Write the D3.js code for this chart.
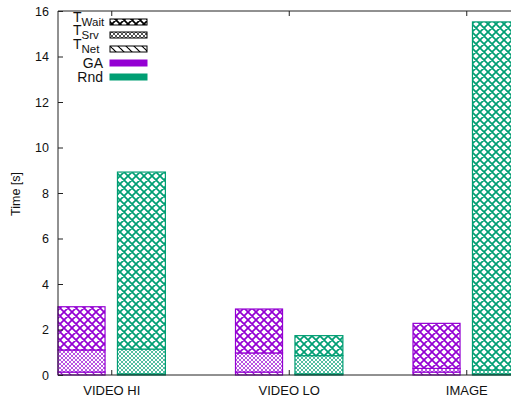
<!DOCTYPE html>
<html>
<head>
<meta charset="utf-8">
<script src="https://cdn.jsdelivr.net/npm/d3@7"></script>
<style>
  body { margin: 0; background: #fff; }
  svg { display: block; font-family: "Liberation Sans", Arial, sans-serif; }
</style>
</head>
<body>
<svg width="511" height="400"></svg>
<script>
// data
const categories = ['VIDEO HI', 'VIDEO LO', 'IMAGE'];
const algorithms = ['GA', 'Rnd'];
const algoColors = ['#9400d3', '#009e73'];
// per algorithm, per category (seconds), stacked bottom-up: Net, Srv, Wait
const tNet = { GA: [0.13, 0.13, 0.13], Rnd: [0.05, 0.05, 0.05] };
const tSrv = { GA: [0.97, 0.84, 0.16], Rnd: [1.09, 0.80, 0.17] };
const tWait = { GA: [1.90, 1.93, 1.98], Rnd: [7.78, 0.88, 15.30] };
const yTicks = [0, 2, 4, 6, 8, 10, 12, 14, 16];

const svg = d3.select('svg');
const plotLeft = 58, plotTop = 11, plotBottom = 375, plotRight = 519.5;

const x = d3.scaleLinear().domain([-0.3, 2.3]).range([plotLeft, plotRight]);
const y = d3.scaleLinear().domain([0, 16]).range([plotBottom, plotTop]);

const defs = svg.append('defs');
function makePatterns(key, color) {
  // coarse crosshatch (T_Wait)
  let p = defs.append('pattern').attr('id', 'wait-' + key)
    .attr('patternUnits', 'userSpaceOnUse').attr('width', 8).attr('height', 8);
  p.append('rect').attr('width', 8).attr('height', 8).attr('fill', '#fff');
  p.append('path').attr('d', 'M0,0L8,8M8,0L0,8M-2,6L2,10M6,-2L10,2M-2,2L2,-2M6,10L10,6')
    .attr('stroke', color).attr('stroke-width', 1.7);
  // fine crosshatch (T_Srv)
  p = defs.append('pattern').attr('id', 'srv-' + key)
    .attr('patternUnits', 'userSpaceOnUse').attr('width', 4).attr('height', 4);
  p.append('rect').attr('width', 4).attr('height', 4).attr('fill', '#fff');
  p.append('path').attr('d', 'M0,0L4,4M4,0L0,4')
    .attr('stroke', color).attr('stroke-width', 0.9).attr('opacity', 0.75);
  // diagonal stripes (T_Net)
  p = defs.append('pattern').attr('id', 'net-' + key)
    .attr('patternUnits', 'userSpaceOnUse').attr('width', 8).attr('height', 8);
  p.append('rect').attr('width', 8).attr('height', 8).attr('fill', '#fff');
  p.append('path').attr('d', 'M0,0L8,8M-4,4L0,8M4,-4L12,4')
    .attr('stroke', color).attr('stroke-width', 1.2);
}
makePatterns('GA', algoColors[0]);
makePatterns('Rnd', algoColors[1]);
makePatterns('key', '#000');

// bars
const offsets = { GA: [-0.3, -0.035], Rnd: [0.035, 0.305] };
algorithms.forEach((a, ai) => {
  const color = algoColors[ai];
  const rows = categories.map((c, i) => {
    const n = tNet[a][i], s = tSrv[a][i], w = tWait[a][i];
    return [
      { i, y0: 0, y1: n, pat: 'net' },
      { i, y0: n, y1: n + s, pat: 'srv' },
      { i, y0: n + s, y1: n + s + w, pat: 'wait' }
    ];
  }).flat();
  svg.append('g').selectAll('rect').data(rows).join('rect')
    .attr('x', d => x(d.i + offsets[a][0]))
    .attr('width', d => x(d.i + offsets[a][1]) - x(d.i + offsets[a][0]))
    .attr('y', d => y(d.y1))
    .attr('height', d => y(d.y0) - y(d.y1))
    .attr('fill', d => `url(#${d.pat}-${a})`)
    .attr('stroke', color)
    .attr('stroke-width', 1.2);
});

// border & axes
const axisColor = '#222';
svg.append('path')
  .attr('d', `M${plotLeft},${plotBottom}V${plotTop}H${plotRight}V${plotBottom}Z`)
  .attr('fill', 'none').attr('stroke', axisColor).attr('stroke-width', 1);

const yAxis = svg.append('g').attr('transform', `translate(${plotLeft},0)`)
  .call(d3.axisLeft(y).tickValues(yTicks).tickSize(-5).tickPadding(9));
const yAxisR = svg.append('g').attr('transform', `translate(${plotRight},0)`)
  .call(d3.axisRight(y).tickValues(yTicks).tickSize(-5).tickFormat(''));
const xAxis = svg.append('g').attr('transform', `translate(0,${plotBottom})`)
  .call(d3.axisBottom(x).tickValues([0, 1, 2]).tickSize(-5).tickPadding(11)
    .tickFormat(i => categories[i]));
const xAxisT = svg.append('g').attr('transform', `translate(0,${plotTop})`)
  .call(d3.axisTop(x).tickValues([0, 1, 2]).tickSize(-5).tickFormat(''));

[yAxis, yAxisR, xAxis, xAxisT].forEach(g => {
  g.select('.domain').remove();
  g.selectAll('line').attr('stroke', axisColor);
  g.selectAll('text').attr('font-size', 12.5).attr('fill', '#111')
    .attr('font-family', '"Liberation Sans", Arial, sans-serif');
});
xAxis.selectAll('text').attr('font-size', 13);

svg.append('text')
  .attr('transform', 'translate(20,194) rotate(-90)')
  .attr('text-anchor', 'middle')
  .attr('font-size', 12.5).attr('fill', '#111')
  .text('Time [s]');

// legend
const legend = [
  { main: 'T', sub: 'Wait', fill: 'url(#wait-key)', stroke: '#000', yc: 22, h: 6 },
  { main: 'T', sub: 'Srv', fill: 'url(#srv-key)', stroke: '#000', yc: 35, h: 6 },
  { main: 'T', sub: 'Net', fill: 'url(#net-key)', stroke: '#000', yc: 49, h: 6 },
  { main: 'GA', sub: null, fill: algoColors[0], stroke: algoColors[0], yc: 63, h: 6 },
  { main: 'Rnd', sub: null, fill: algoColors[1], stroke: algoColors[1], yc: 77, h: 6 }
];
const lg = svg.append('g');
legend.forEach(d => {
  if (d.sub) {
    const t = lg.append('text').attr('x', 73).attr('y', d.yc).attr('font-size', 14).attr('fill', '#111');
    t.append('tspan').text(d.main);
    t.append('tspan').attr('dy', 4).attr('font-size', 11.5).text(d.sub);
  } else {
    lg.append('text').attr('x', 103).attr('y', d.yc + 5).attr('text-anchor', 'end')
      .attr('font-size', 14).attr('fill', '#111').text(d.main);
  }
  lg.append('rect').attr('x', 110).attr('y', d.yc - d.h / 2).attr('width', 37).attr('height', d.h)
    .attr('fill', d.fill).attr('stroke', d.stroke).attr('stroke-width', 1);
});
</script>
</body>
</html>
